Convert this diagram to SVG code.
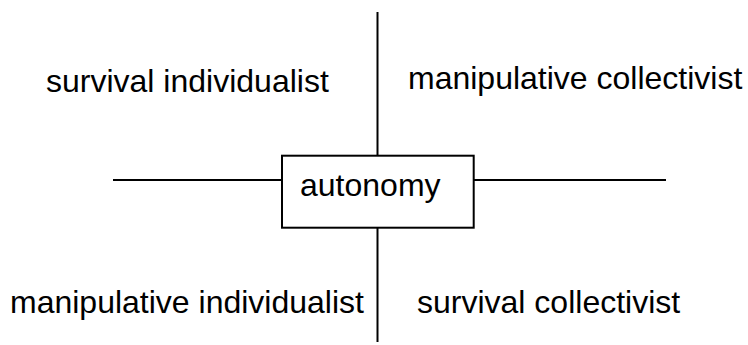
<svg xmlns="http://www.w3.org/2000/svg" width="748" height="345" viewBox="0 0 748 345">
  <style>
    .line { stroke: #000; stroke-width: 2; fill: none; }
    .box { stroke: #000; stroke-width: 2; fill: #fff; }
    .label { font-family: "Liberation Sans", Arial, sans-serif; font-size: 32px; fill: #000; }
  </style>
  <rect width="748" height="345" fill="#fff"/>
  <g id="connectors">
    <line class="line" x1="377.5" y1="12" x2="377.5" y2="155.7"/>
    <line class="line" x1="377.5" y1="227.7" x2="377.5" y2="342"/>
    <line class="line" x1="113" y1="180" x2="282" y2="180"/>
    <line class="line" x1="473.7" y1="180" x2="666" y2="180"/>
  </g>
  <g id="autonomy">
    <rect class="box" x="282" y="155.7" width="191.7" height="72"/>
    <text class="label" x="300" y="196">autonomy</text>
  </g>
  <g id="survival-individualist">
    <text class="label" x="46" y="92">survival individualist</text>
  </g>
  <g id="manipulative-collectivist">
    <text class="label" x="408" y="89">manipulative collectivist</text>
  </g>
  <g id="manipulative-individualist">
    <text class="label" x="10" y="312.5">manipulative individualist</text>
  </g>
  <g id="survival-collectivist">
    <text class="label" x="417" y="312.5">survival collectivist</text>
  </g>
</svg>
